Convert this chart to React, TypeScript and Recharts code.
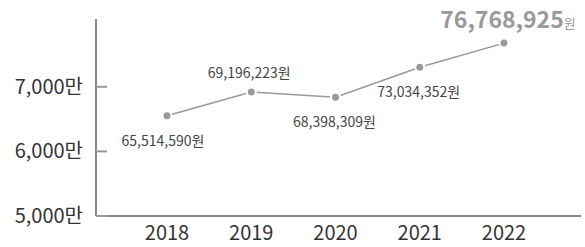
import React from 'react';
import { LineChart, Line, XAxis, YAxis, LabelList } from 'recharts';

const years = ['2018', '2019', '2020', '2021', '2022'];
const incomes = [65514590, 69196223, 68398309, 73034352, 76768925];
const yTicks = [5000, 6000, 7000];

// where each value label sits relative to its point
const LABEL_POS = [
  { dx: -4, dy: 25 },
  { dx: -2, dy: -19 },
  { dx: -1, dy: 25 },
  { dx: -1, dy: 25 },
  { dx: 4, dy: -23 },
];

const data = years.map((year, i) => ({ year, won: incomes[i], man: incomes[i] / 10000 }));

const FONT = '"Noto Sans CJK KR", "Noto Sans", sans-serif';
const fmt = (n: number) => n.toLocaleString('en-US');

const YTick = ({ x, y, payload }: any) => (
  <g>
    <line x1={x} x2={x + 11} y1={y} y2={y} stroke="#999" strokeWidth={2} />
    <text x={x - 13} y={y} dy={7} textAnchor="end" fontSize={20} fill="#333" fontFamily={FONT}>
      {fmt(payload.value)}만
    </text>
  </g>
);

const ValueLabel = (props: any) => {
  const { x, y, index, value } = props;
  const pos = LABEL_POS[index];
  const last = index === incomes.length - 1;
  if (last) {
    return (
      <text x={x + pos.dx} y={y + pos.dy} dy={8} textAnchor="middle" fontFamily={FONT} fill="#999">
        <tspan fontSize={23} fontWeight="bold">{fmt(value)}</tspan>
        <tspan fontSize={13}>원</tspan>
      </text>
    );
  }
  return (
    <text x={x + pos.dx} y={y + pos.dy} dy={5} textAnchor="middle" fontSize={14} fill="#444" fontFamily={FONT}>
      {fmt(value)}원
    </text>
  );
};

export default function App() {
  return (
    <div style={{ width: 585, height: 247 }}>
      <style>{`body{margin:0}`}</style>
      <LineChart width={585} height={247} data={data} margin={{ top: 19, right: 4, bottom: 0, left: 0 }}>
        <XAxis
          dataKey="year"
          axisLine={{ stroke: '#888', strokeWidth: 2 }}
          tickLine={false}
          padding={{ left: 71, right: 77 }}
          tick={{ fontSize: 20, fill: '#333', fontFamily: FONT }}
          tickMargin={4}
          height={31}
        />
        <YAxis
          width={96}
          domain={[5000, 8050]}
          ticks={yTicks}
          axisLine={{ stroke: '#888', strokeWidth: 2 }}
          tickLine={false}
          tickSize={0}
          tickMargin={0}
          tick={<YTick />}
          interval={0}
        />
        <Line
          dataKey="man"
          stroke="#999"
          strokeWidth={1.5}
          dot={{ r: 4.5, fill: '#999', stroke: '#fff', strokeWidth: 2 }}
          isAnimationActive={false}
        >
          <LabelList dataKey="won" content={<ValueLabel />} />
        </Line>
      </LineChart>
    </div>
  );
}
